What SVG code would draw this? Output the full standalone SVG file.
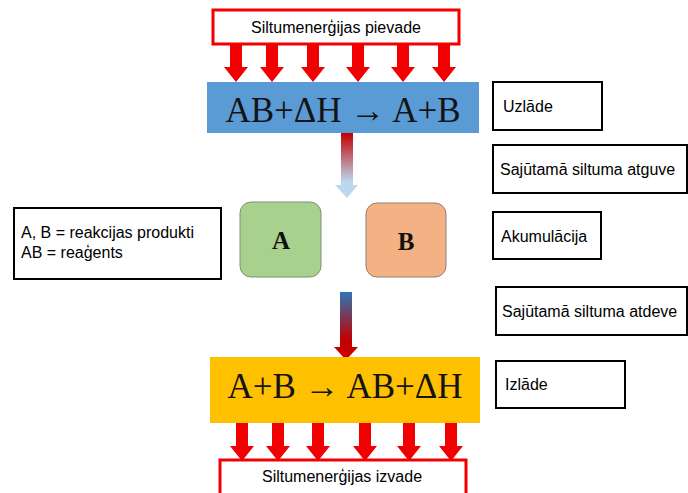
<svg xmlns="http://www.w3.org/2000/svg" xmlns:xlink="http://www.w3.org/1999/xlink" width="688" height="493" viewBox="0 0 688 493">
  <style>
    .label { font-family: "Liberation Sans", Arial, sans-serif; font-size: 16px; fill: #000; }
    .eq { font-family: "Liberation Serif", "Times New Roman", serif; font-size: 35px; fill: #141414; }
    .letter { font-family: "Liberation Serif", "Times New Roman", serif; font-size: 25px; font-weight: bold; fill: #111; }
    .note { fill: #fff; stroke: #000; stroke-width: 2; }
    .energy { fill: #fff; stroke: #f00000; stroke-width: 3; }
    .heat { fill: #f00000; }
  </style>
  <defs>
    <!-- block arrow, origin at top centre of the shaft -->
    <path id="blockArrow" d="M-6,0 H6 V23 H12 L0,38 L-12,23 H-6 Z"/>
    <linearGradient id="chargeGrad" x1="0" y1="0" x2="0" y2="1">
      <stop offset="0" stop-color="#c00000"/>
      <stop offset="0.75" stop-color="#bdd7ee"/>
      <stop offset="1" stop-color="#bdd7ee"/>
    </linearGradient>
    <linearGradient id="dischargeGrad" x1="0" y1="0" x2="0" y2="1">
      <stop offset="0" stop-color="#2e75b6"/>
      <stop offset="0.7" stop-color="#c00000"/>
      <stop offset="1" stop-color="#d00000"/>
    </linearGradient>
  </defs>

  <!-- heat input -->
  <g id="heat-input">
    <rect class="energy" x="213" y="10" width="246" height="34"/>
    <text class="label" x="336" y="33" text-anchor="middle">Siltumenerģijas pievade</text>
  </g>

  <g id="connectors">
    <!-- heat flowing into the charging reaction -->
    <g class="heat">
      <use xlink:href="#blockArrow" x="236" y="44"/>
      <use xlink:href="#blockArrow" x="272" y="44"/>
      <use xlink:href="#blockArrow" x="313" y="44"/>
      <use xlink:href="#blockArrow" x="358" y="44"/>
      <use xlink:href="#blockArrow" x="403" y="44"/>
      <use xlink:href="#blockArrow" x="444" y="44"/>
    </g>
    <!-- charging to storage -->
    <path d="M341,133 H353 V185 H358 L347,198 L335,185 H341 Z" fill="url(#chargeGrad)"/>
    <!-- storage to discharging -->
    <path d="M340,292 H352 V347 H358 L346,360 L334,347 H340 Z" fill="url(#dischargeGrad)"/>
    <!-- heat released from the discharging reaction -->
    <g class="heat">
      <use xlink:href="#blockArrow" x="242" y="423"/>
      <use xlink:href="#blockArrow" x="278" y="423"/>
      <use xlink:href="#blockArrow" x="318" y="423"/>
      <use xlink:href="#blockArrow" x="365" y="423"/>
      <use xlink:href="#blockArrow" x="409" y="423"/>
      <use xlink:href="#blockArrow" x="451" y="423"/>
    </g>
  </g>

  <!-- charging reaction -->
  <g id="charging">
    <rect x="207" y="82" width="272" height="51" fill="#5b9bd5"/>
    <text class="eq" x="343" y="122" text-anchor="middle">AB+ΔH → A+B</text>
  </g>

  <!-- stored products -->
  <g id="product-a">
    <rect x="240" y="202" width="81" height="75" rx="11" fill="#a9d18e" stroke="#7f8f78" stroke-width="1"/>
    <text class="letter" x="281" y="249" text-anchor="middle">A</text>
  </g>
  <g id="product-b">
    <rect x="366" y="203" width="80" height="74" rx="11" fill="#f4b183" stroke="#8f7f74" stroke-width="1"/>
    <text class="letter" x="406" y="250" text-anchor="middle">B</text>
  </g>

  <!-- discharging reaction -->
  <g id="discharging">
    <rect x="210" y="357" width="270" height="66" fill="#ffc000"/>
    <text class="eq" x="345" y="398" text-anchor="middle">A+B → AB+ΔH</text>
  </g>

  <!-- heat output -->
  <g id="heat-output">
    <rect class="energy" x="220" y="460" width="246" height="36"/>
    <text class="label" x="342" y="482" text-anchor="middle">Siltumenerģijas izvade</text>
  </g>

  <!-- legend -->
  <g id="legend">
    <rect class="note" x="14" y="208" width="207" height="71"/>
    <text class="label" x="21" y="238">A, B = reakcijas produkti</text>
    <text class="label" x="21" y="258">AB = reaģents</text>
  </g>

  <!-- stage labels -->
  <g id="stage-charge">
    <rect class="note" x="493" y="82" width="109" height="48"/>
    <text class="label" x="503" y="112">Uzlāde</text>
  </g>
  <g id="stage-recovery">
    <rect class="note" x="493" y="145" width="194" height="48"/>
    <text class="label" x="500" y="175">Sajūtamā siltuma atguve</text>
  </g>
  <g id="stage-storage">
    <rect class="note" x="493" y="212" width="108" height="47"/>
    <text class="label" x="501" y="242">Akumulācija</text>
  </g>
  <g id="stage-release">
    <rect class="note" x="496" y="287" width="191" height="48"/>
    <text class="label" x="502" y="317">Sajūtamā siltuma atdeve</text>
  </g>
  <g id="stage-discharge">
    <rect class="note" x="496" y="361" width="129" height="47"/>
    <text class="label" x="505" y="390">Izlāde</text>
  </g>
</svg>
